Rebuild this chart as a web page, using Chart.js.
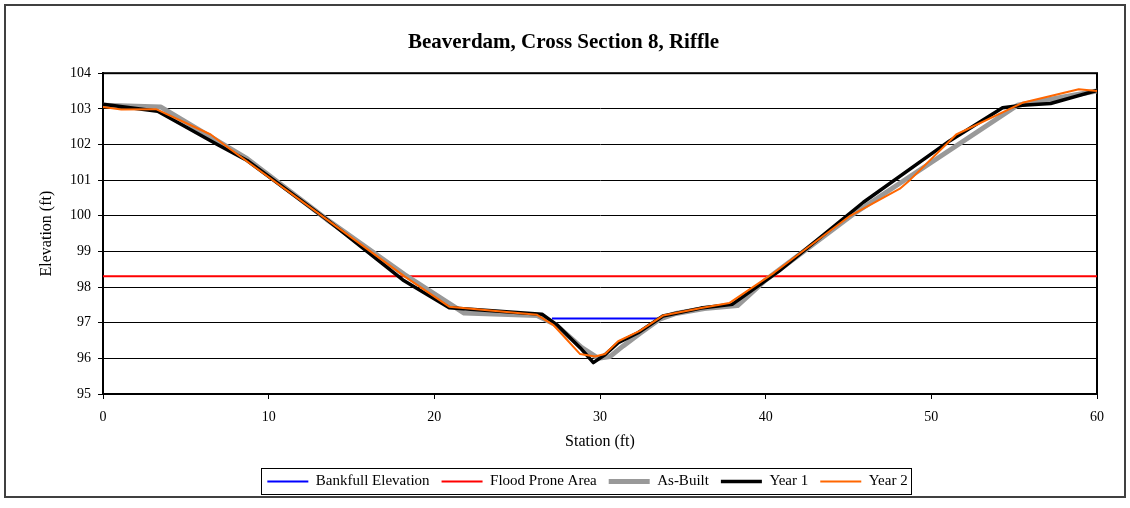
<!DOCTYPE html>
<html>
<head>
<meta charset="utf-8">
<script src="https://cdn.jsdelivr.net/npm/chart.js@4"></script>
<style>
    body { margin: 0; background: #ffffff; }
    #wrap { width: 1130px; height: 508px; }
</style>
</head>
<body>
<div id="wrap"><canvas id="grafica"></canvas></div>
<script>
// Cross section survey values (station ft, elevation ft)
const asBuiltStation = [0, 3.5, 8.7, 13.5, 18.2, 21.8, 26.2, 27.3, 28.9, 29.9, 30.6, 31.4, 32.4, 33.6, 34.5, 36.3, 38.3, 40.0, 45.3, 55.2, 60];
const asBuiltElev = [103.1, 103.05, 101.6, 99.9, 98.35, 97.27, 97.2, 96.95, 96.3, 96.0, 96.05, 96.35, 96.7, 97.1, 97.25, 97.4, 97.48, 98.2, 100.05, 103.1, 103.5];

const year1Station = [0, 3.3, 6.9, 8.7, 13.5, 18.1, 20.9, 26.5, 27.4, 28.8, 29.6, 30.3, 31.1, 32.3, 33.8, 36.1, 38.0, 40.8, 45.9, 51.1, 54.3, 55.5, 57.2, 60];
const year1Elev = [103.13, 102.93, 102.0, 101.55, 99.9, 98.2, 97.42, 97.24, 96.94, 96.3, 95.88, 96.1, 96.44, 96.72, 97.19, 97.41, 97.52, 98.45, 100.38, 102.1, 103.03, 103.1, 103.15, 103.52];

const year2Station = [0, 1.1, 3.2, 6.5, 7.5, 13.5, 18.2, 20.9, 26.2, 27.2, 28.8, 29.7, 30.3, 31.1, 32.4, 33.8, 36.2, 37.8, 40.5, 45.1, 48.1, 48.7, 51.5, 55.5, 58.9, 60];
const year2Elev = [103.05, 102.98, 102.99, 102.28, 101.93, 99.9, 98.3, 97.45, 97.22, 96.93, 96.12, 96.05, 96.12, 96.48, 96.77, 97.2, 97.42, 97.55, 98.4, 100.0, 100.76, 101.0, 102.28, 103.17, 103.55, 103.5];

const bankfullStation = [27.1, 33.5];
const bankfullElev = [97.12, 97.12];

const floodStation = [0, 60];
const floodElev = [98.3, 98.3];

const seriesNames = ["Bankfull Elevation", "Flood Prone Area", "As-Built", "Year 1", "Year 2"];

function toPoints(xs, ys) {
    return xs.map((x, i) => ({ x: x, y: ys[i] }));
}

const serif = "'Liberation Serif', 'Times New Roman', serif";

// outer frame + plot area box + border around legend
const framePlugin = {
    id: "frame",
    afterLayout(chart) {
        // legend sits a bit right of centre in the original
        chart.legend.left += 24;
        chart.legend.right += 24;
    },
    beforeDatasetsDraw(chart) {
        const ctx = chart.ctx;
        const a = chart.chartArea;
        ctx.save();
        ctx.strokeStyle = "#000000";
        ctx.lineWidth = 2;
        ctx.strokeRect(a.left, a.top, a.right - a.left, a.bottom - a.top);
        ctx.restore();
    },
    afterDraw(chart) {
        const ctx = chart.ctx;
        ctx.save();
        ctx.strokeStyle = "#404040";
        ctx.lineWidth = 2;
        ctx.strokeRect(5, 5, 1120, 492);

        const boxes = chart.legend.legendHitBoxes;
        if (boxes && boxes.length) {
            let minX = Infinity, maxX = -Infinity, minY = Infinity, maxY = -Infinity;
            boxes.forEach(b => {
                minX = Math.min(minX, b.left);
                maxX = Math.max(maxX, b.left + b.width);
                minY = Math.min(minY, b.top);
                maxY = Math.max(maxY, b.top + b.height);
            });
            ctx.strokeStyle = "#000000";
            ctx.lineWidth = 1;
            ctx.strokeRect(Math.round(minX - 6) + 0.5, Math.round(minY - 6) + 0.5,
                Math.round(maxX - minX + 10), Math.round(maxY - minY + 11));
        }
        ctx.restore();
    }
};

const grafica = document.getElementById("grafica");
const myChart = new Chart(grafica, {
    type: "line",
    data: {
        datasets: [
            {
                label: seriesNames[0],
                data: toPoints(bankfullStation, bankfullElev),
                borderColor: "#0000FF",
                borderWidth: 2,
                order: 4
            },
            {
                label: seriesNames[1],
                data: toPoints(floodStation, floodElev),
                borderColor: "#FF0000",
                borderWidth: 2,
                order: 3
            },
            {
                label: seriesNames[2],
                data: toPoints(asBuiltStation, asBuiltElev),
                borderColor: "#999999",
                borderWidth: 5,
                order: 2
            },
            {
                label: seriesNames[3],
                data: toPoints(year1Station, year1Elev),
                borderColor: "#000000",
                borderWidth: 3.5,
                order: 1
            },
            {
                label: seriesNames[4],
                data: toPoints(year2Station, year2Elev),
                borderColor: "#FF6600",
                borderWidth: 2,
                order: 0
            }
        ]
    },
    options: {
        responsive: true,
        maintainAspectRatio: false,
        animation: false,
        elements: {
            point: { radius: 0 },
            line: { tension: 0, borderJoinStyle: "round" }
        },
        layout: {
            padding: { left: 30, right: 33, top: 0, bottom: 9 }
        },
        plugins: {
            title: {
                display: true,
                text: "Beaverdam, Cross Section 8, Riffle",
                color: "#000000",
                font: { family: serif, size: 21, weight: "bold" },
                padding: { top: 30, bottom: 18 }
            },
            legend: {
                position: "bottom",
                labels: {
                    color: "#000000",
                    font: { family: serif, size: 15 },
                    usePointStyle: true,
                    pointStyle: "line",
                    pointStyleWidth: 41,
                    boxWidth: 41,
                    boxHeight: 15,
                    padding: 12,
                    sort: (a, b) => a.datasetIndex - b.datasetIndex
                }
            },
            tooltip: { enabled: false }
        },
        scales: {
            x: {
                type: "linear",
                min: 0,
                max: 60,
                afterFit(scale) { scale.height = 68; },
                ticks: {
                    stepSize: 10,
                    color: "#000000",
                    font: { family: serif, size: 14 },
                    padding: 10
                },
                grid: {
                    drawOnChartArea: false,
                    drawTicks: true,
                    tickLength: 5,
                    color: "#000000"
                },
                border: { display: true, color: "#000000", width: 2 },
                title: {
                    display: true,
                    text: "Station (ft)",
                    color: "#000000",
                    font: { family: serif, size: 16 },
                    padding: { top: 0, bottom: 11 }
                }
            },
            y: {
                min: 95,
                max: 104,
                afterFit(scale) { scale.width = 73; },
                ticks: {
                    stepSize: 1,
                    color: "#000000",
                    font: { family: serif, size: 14 },
                    padding: 7
                },
                grid: {
                    color: "#000000",
                    lineWidth: 1,
                    drawTicks: true,
                    tickLength: 5
                },
                border: { display: true, color: "#000000", width: 2 },
                title: {
                    display: true,
                    text: "Elevation (ft)",
                    color: "#000000",
                    font: { family: serif, size: 16 },
                    padding: { top: 7, bottom: 0 }
                }
            }
        }
    },
    plugins: [framePlugin]
});
</script>
</body>
</html>
